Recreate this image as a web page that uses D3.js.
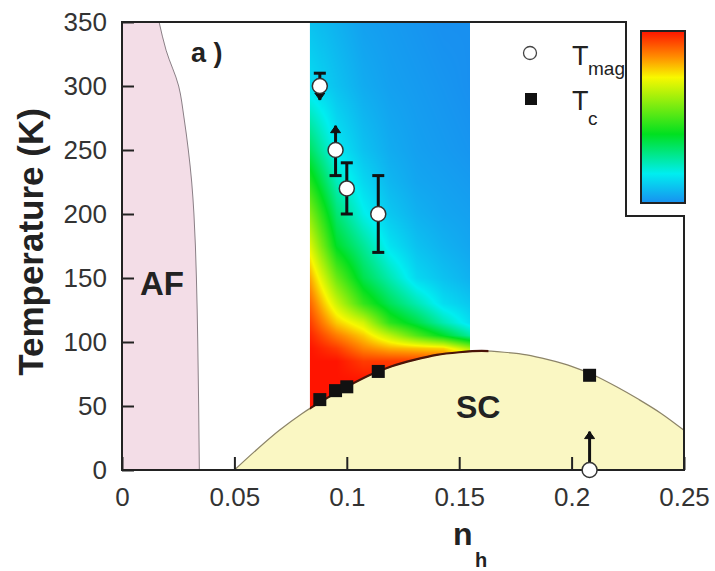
<!DOCTYPE html>
<html><head><meta charset="utf-8">
<script src="https://cdn.jsdelivr.net/npm/d3@7"></script>
<style>
html,body{margin:0;padding:0;background:#fff;}
svg{display:block;font-family:"Liberation Sans",Arial,Helvetica,sans-serif;}
</style></head><body>
<svg id="chart" width="715" height="571"></svg>
<script>
// ---------- data ----------
const xTickValues = [0, 0.05, 0.1, 0.15, 0.2, 0.25];
const xTickLabels = ["0", "0.05", "0.1", "0.15", "0.2", "0.25"];
const yTickValues = [0, 50, 100, 150, 200, 250, 300, 350];
const yTickLabels = ["0", "50", "100", "150", "200", "250", "300", "350"];

// AF phase boundary (n_h, T)
const afBoundaryN = [0.0165, 0.0196, 0.0252, 0.0276, 0.0295, 0.0310, 0.0320, 0.0331, 0.0337, 0.0341, 0.0344];
const afBoundaryT = [350, 328, 300, 275, 250, 225, 200, 150, 100, 50, 0];

// SC dome (n_h, T)
const domeN = [0.05, 0.06, 0.07, 0.08, 0.09, 0.10, 0.11, 0.12, 0.13, 0.14, 0.15, 0.16, 0.17, 0.18, 0.19, 0.20, 0.21, 0.22, 0.23, 0.24, 0.25];
const domeT = [0, 16, 31, 44, 55, 65, 74, 81, 86, 90, 92, 93, 92, 90, 86, 81, 74, 65, 55, 44, 31];

// T_mag points with error bars
const magN = [0.088, 0.095, 0.100, 0.114, 0.208];
const magT = [300, 250, 220, 200, 0];
const magHi = [310, 269, 240, 230, 30];
const magLo = [289, 230, 200, 170, 0];
const magCapHi = ["bar", "arrow", "bar", "bar", "arrow"];
const magCapLo = ["arrow", "bar", "bar", "bar", "none"];

// T_c points
const tcN = [0.088, 0.095, 0.100, 0.114, 0.208];
const tcT = [55, 62, 65, 77, 74];

// colour-map field (rows: T, columns: n_h), value 0 (blue) .. 1 (red)
const heatN = [0.0836, 0.0955, 0.1074, 0.1192, 0.1311, 0.1430, 0.1548];
const heatT = [350, 300, 250, 225, 200, 175, 150, 130, 115, 105, 95, 85, 70, 50];
const heatV = [
  [0.09, 0.06, 0.03, 0.02, 0.01, 0.00, 0.00],
  [0.14, 0.09, 0.05, 0.03, 0.02, 0.01, 0.00],
  [0.33, 0.16, 0.09, 0.05, 0.03, 0.02, 0.01],
  [0.45, 0.23, 0.13, 0.07, 0.04, 0.03, 0.02],
  [0.58, 0.31, 0.18, 0.10, 0.06, 0.04, 0.03],
  [0.70, 0.39, 0.27, 0.15, 0.09, 0.06, 0.04],
  [0.82, 0.54, 0.35, 0.24, 0.13, 0.09, 0.06],
  [0.90, 0.67, 0.47, 0.34, 0.24, 0.14, 0.10],
  [0.95, 0.78, 0.68, 0.46, 0.36, 0.24, 0.14],
  [0.98, 0.87, 0.78, 0.65, 0.51, 0.39, 0.26],
  [1.00, 0.95, 0.86, 0.81, 0.79, 0.77, 0.62],
  [1.00, 1.00, 0.95, 0.95, 0.95, 0.95, 0.90],
  [1.00, 1.00, 1.00, 1.00, 1.00, 1.00, 1.00],
  [1.00, 1.00, 1.00, 1.00, 1.00, 1.00, 1.00]
];
const colorStops = [0, 0.17, 0.40, 0.73, 0.85, 1];
const colorValues = ["#1890f0", "#00eef0", "#00e020", "#f8f800", "#ff8c00", "#ff1400"];

// ---------- drawing ----------
const FONT = '"Liberation Sans",Arial,Helvetica,sans-serif';
const x = d3.scaleLinear().domain([0, 0.25]).range([122, 684]);
const y = d3.scaleLinear().domain([0, 350]).range([470, 22]);
const color = d3.scaleLinear().domain(colorStops).range(colorValues).clamp(true);
const svg = d3.select("#chart");
const defs = svg.append("defs");

// AF region
const afPts = afBoundaryN.map((n, i) => ({n, T: afBoundaryT[i]}));
svg.append("path").datum(afPts)
  .attr("d", d3.area().y(d => y(d.T)).x0(x(0)).x1(d => x(d.n)).curve(d3.curveMonotoneY))
  .attr("fill", "#f3dde7");
svg.append("path").datum(afPts)
  .attr("d", d3.line().y(d => y(d.T)).x(d => x(d.n)).curve(d3.curveMonotoneY))
  .attr("fill", "none").attr("stroke", "#8a7f86").attr("stroke-width", 1);

// heat map
function locate(arr, v) {
  for (let i = 0; i < arr.length - 1; i++) {
    const a = arr[i], b = arr[i + 1];
    if ((v >= Math.min(a, b)) && (v <= Math.max(a, b))) return [i, (v - a) / (b - a)];
  }
  if (Math.abs(v - arr[0]) < Math.abs(v - arr[arr.length - 1])) return [0, 0];
  return [arr.length - 2, 1];
}
const hx0 = x(heatN[0]), hx1 = x(heatN[heatN.length - 1]);
const hy0 = y(350), hy1 = y(0);
const cw = Math.round(hx1 - hx0), ch = Math.round(hy1 - hy0);
const cv = document.createElement("canvas");
cv.width = cw; cv.height = ch;
const ctx = cv.getContext("2d");
const img = ctx.createImageData(cw, ch);
for (let py = 0; py < ch; py++) {
  const T = y.invert(hy0 + py + 0.5);
  const [ri, rf] = locate(heatT, T);
  for (let px = 0; px < cw; px++) {
    const n = x.invert(hx0 + px + 0.5);
    const [ci, cf] = locate(heatN, n);
    const v00 = heatV[ri][ci], v01 = heatV[ri][ci + 1], v10 = heatV[ri + 1][ci], v11 = heatV[ri + 1][ci + 1];
    const v = (v00 * (1 - cf) + v01 * cf) * (1 - rf) + (v10 * (1 - cf) + v11 * cf) * rf;
    const c = d3.rgb(color(v));
    const k = (py * cw + px) * 4;
    img.data[k] = c.r; img.data[k + 1] = c.g; img.data[k + 2] = c.b; img.data[k + 3] = 255;
  }
}
ctx.putImageData(img, 0, 0);
svg.append("image").attr("href", cv.toDataURL())
  .attr("x", hx0).attr("y", hy0).attr("width", hx1 - hx0).attr("height", hy1 - hy0)
  .attr("preserveAspectRatio", "none");

// SC dome
const domePts = domeN.map((n, i) => ({n, T: domeT[i]}));
svg.append("path").datum(domePts)
  .attr("d", d3.area().x(d => x(d.n)).y0(y(0)).y1(d => y(d.T)).curve(d3.curveMonotoneX))
  .attr("fill", "#faf7c3");
const domeLine = d3.line().x(d => x(d.n)).y(d => y(d.T)).curve(d3.curveMonotoneX);
svg.append("path").datum(domePts).attr("d", domeLine)
  .attr("fill", "none").attr("stroke", "#8c8468").attr("stroke-width", 1.2);
defs.append("clipPath").attr("id", "edgeClip").append("rect")
  .attr("x", x(0.0836)).attr("y", y(350)).attr("width", x(0.163) - x(0.0836)).attr("height", y(0) - y(350));
svg.append("path").datum(domePts).attr("d", domeLine).attr("clip-path", "url(#edgeClip)")
  .attr("fill", "none").attr("stroke", "#4a1408").attr("stroke-width", 2.2);

// frame with notch for the colour bar
svg.append("path")
  .attr("d", `M${x(0)},${y(350)}H626V216H${x(0.25)}V${y(0)}H${x(0)}Z`)
  .attr("fill", "none").attr("stroke", "#222").attr("stroke-width", 2);

// axes
const gx = svg.append("g").attr("transform", `translate(0,${y(0)})`)
  .call(d3.axisBottom(x).tickValues(xTickValues).tickFormat((d, i) => xTickLabels[i]).tickSize(-13).tickPadding(18));
gx.select(".domain").remove();
gx.attr("font-size", 26).attr("font-family", FONT);
gx.selectAll("line").attr("stroke", "#222").attr("stroke-width", 2);
gx.selectAll("text").attr("fill", "#333");

const gy = svg.append("g").attr("transform", `translate(${x(0)},0)`)
  .call(d3.axisLeft(y).tickValues(yTickValues).tickFormat((d, i) => yTickLabels[i]).tickSize(-12).tickPadding(15));
gy.select(".domain").remove();
gy.attr("font-size", 26).attr("font-family", FONT);
gy.selectAll("line").attr("stroke", "#222").attr("stroke-width", 2);
gy.selectAll("text").attr("fill", "#333");

// error bars
const eb = svg.append("g").attr("stroke", "#111").attr("fill", "#111");
magN.forEach((n, i) => {
  const cx = x(n);
  eb.append("line").attr("x1", cx).attr("x2", cx).attr("y1", y(magLo[i])).attr("y2", y(magHi[i])).attr("stroke-width", 3);
  [[magCapHi[i], magHi[i], -1], [magCapLo[i], magLo[i], 1]].forEach(([type, val, dir]) => {
    const py = y(val);
    if (type === "bar") {
      eb.append("line").attr("x1", cx - 6).attr("x2", cx + 6).attr("y1", py).attr("y2", py).attr("stroke-width", 3);
    } else if (type === "arrow") {
      eb.append("path").attr("d", `M${cx},${py}L${cx - 5},${py - dir * 7}L${cx + 5},${py - dir * 7}Z`).attr("stroke-width", 1);
    }
  });
});
// T_mag circles
svg.append("g").selectAll("circle").data(magN).join("circle")
  .attr("cx", d => x(d)).attr("cy", (d, i) => y(magT[i])).attr("r", 7.5)
  .attr("fill", "#fff").attr("stroke", "#333").attr("stroke-width", 1.5);
// T_c squares
svg.append("g").selectAll("rect").data(tcN).join("rect")
  .attr("x", d => x(d) - 6.5).attr("y", (d, i) => y(tcT[i]) - 6.5).attr("width", 13).attr("height", 13)
  .attr("fill", "#111");

// labels
svg.append("text").attr("x", 191).attr("y", 62).attr("font-size", 27).attr("font-weight", "bold").attr("fill", "#222").text("a )");
svg.append("text").attr("x", 140).attr("y", 295).attr("font-size", 33).attr("font-weight", "bold").attr("fill", "#222").text("AF");
svg.append("text").attr("x", 456).attr("y", 418).attr("font-size", 32).attr("font-weight", "bold").attr("fill", "#222").text("SC");
svg.append("text").attr("transform", "translate(43,242) rotate(-90)").attr("text-anchor", "middle")
  .attr("font-size", 35).attr("font-weight", "bold").attr("fill", "#222").text("Temperature (K)");
svg.append("text").attr("x", 453).attr("y", 545).attr("font-size", 32).attr("font-weight", "bold").attr("fill", "#222").text("n");
svg.append("text").attr("x", 475).attr("y", 567).attr("font-size", 20).attr("font-weight", "bold").attr("fill", "#222").text("h");

// legend
svg.append("circle").attr("cx", 530).attr("cy", 53).attr("r", 6.5).attr("fill", "#fff").attr("stroke", "#444").attr("stroke-width", 1.3);
svg.append("text").attr("x", 572).attr("y", 65).attr("font-size", 27).attr("fill", "#222").text("T");
svg.append("text").attr("x", 588).attr("y", 75).attr("font-size", 19).attr("fill", "#222").text("mag");
svg.append("rect").attr("x", 525).attr("y", 93).attr("width", 12).attr("height", 12).attr("fill", "#111");
svg.append("text").attr("x", 572).attr("y", 110).attr("font-size", 27).attr("fill", "#222").text("T");
svg.append("text").attr("x", 588).attr("y", 125).attr("font-size", 19).attr("fill", "#222").text("c");

// colour bar
const grad = defs.append("linearGradient").attr("id", "cbGrad").attr("x1", 0).attr("y1", 1).attr("x2", 0).attr("y2", 0);
colorStops.forEach((s, i) => grad.append("stop").attr("offset", s).attr("stop-color", colorValues[i]));
svg.append("rect").attr("x", 641).attr("y", 31).attr("width", 44).attr("height", 172)
  .attr("fill", "url(#cbGrad)").attr("stroke", "#222").attr("stroke-width", 2);
</script>
</body></html>
